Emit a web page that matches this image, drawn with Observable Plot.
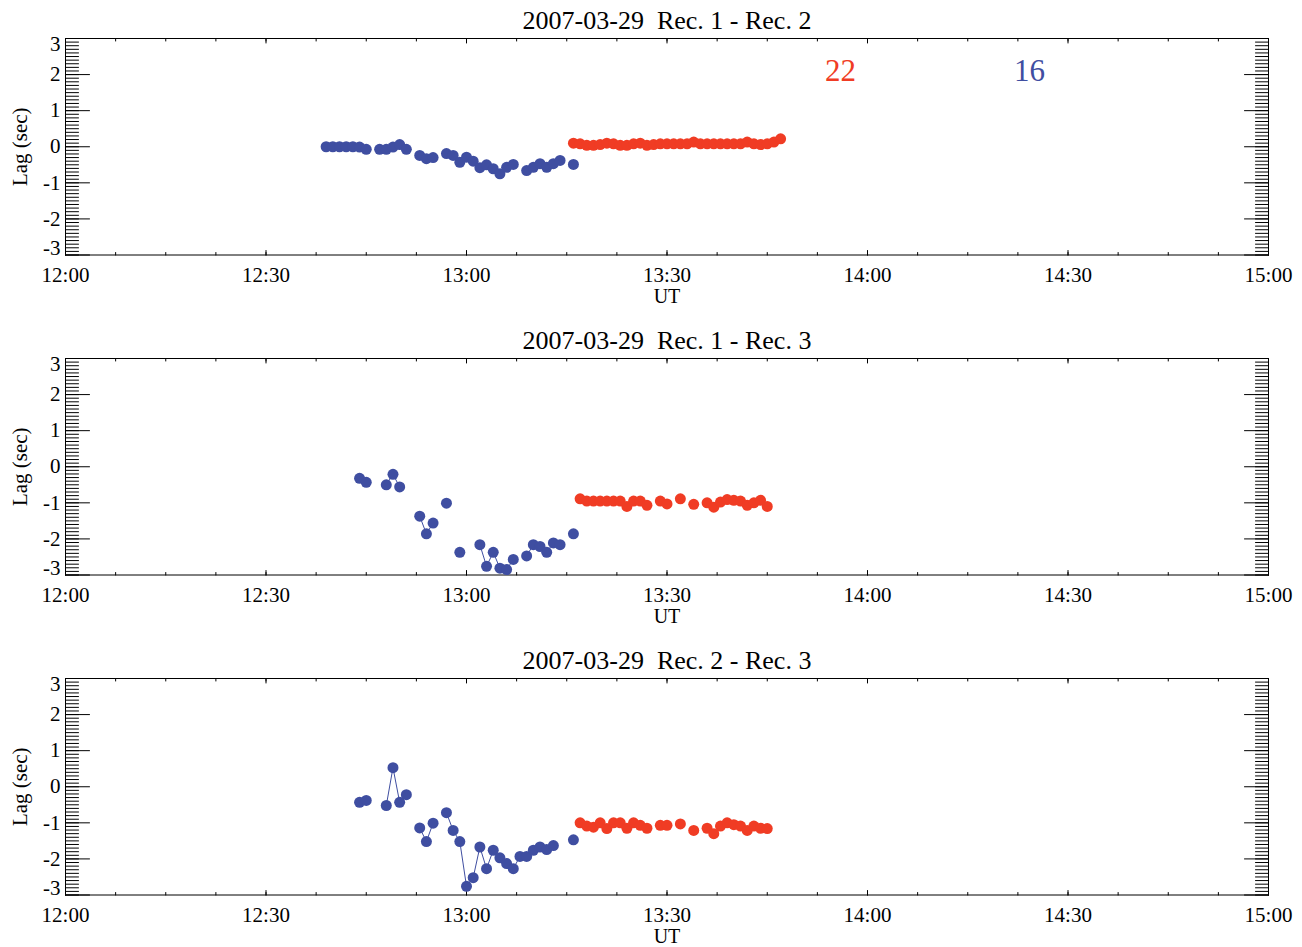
<!DOCTYPE html>
<html>
<head>
<meta charset="utf-8">
<script src="https://cdn.jsdelivr.net/npm/d3@7"></script>
<script src="https://cdn.jsdelivr.net/npm/@observablehq/plot@0.6"></script>
<style>
  body { margin: 0; background: #fff; }
  #chart svg { display: block; }
</style>
</head>
<body>
<div id="chart"></div>
<script>
// ---- Data (time in minutes after 12:00 UT, lag in seconds) ----
const xTickMinutes = [0, 30, 60, 90, 120, 150, 180];
const xTickLabels = ["12:00", "12:30", "13:00", "13:30", "14:00", "14:30", "15:00"];
const yTicks = [-3, -2, -1, 0, 1, 2, 3];

const titles = [
  "2007-03-29  Rec. 1 - Rec. 2",
  "2007-03-29  Rec. 1 - Rec. 3",
  "2007-03-29  Rec. 2 - Rec. 3"
];
const countLabels = ["22", "16"];

// Panel 1: Rec. 1 - Rec. 2
const p1BlueMin = [39,40,41,42,43,44,45, 47,48,49,50,51, 53,54,55, 57,58,59,60,61,62,63,64,65,66,67, 69,70,71,72,73,74, 76];
const p1BlueLag = [0,0,0,0,0,-0.01,-0.07, -0.07,-0.07,-0.01,0.06,-0.07, -0.24,-0.33,-0.30, -0.19,-0.24,-0.43,-0.29,-0.40,-0.58,-0.50,-0.61,-0.75,-0.57,-0.49, -0.66,-0.57,-0.47,-0.57,-0.47,-0.38, -0.49];
const p1RedMin = [76,77,78,79,80,81,82,83,84,85,86,87,88,89,90,91,92,93,94,95,96,97,98,99,100,101,102,103,104,105,106,107];
const p1RedLag = [0.10,0.08,0.04,0.04,0.06,0.10,0.08,0.04,0.04,0.08,0.10,0.04,0.06,0.08,0.08,0.08,0.08,0.08,0.13,0.08,0.08,0.08,0.08,0.08,0.08,0.08,0.13,0.08,0.06,0.08,0.13,0.22];

// Panel 2: Rec. 1 - Rec. 3
const p2BlueMin = [44,45,48,49,50,53,54,55,57,59,62,63,64,65,66,67,69,70,71,72,73,74,76];
const p2BlueLag = [-0.32,-0.43,-0.50,-0.21,-0.56,-1.37,-1.86,-1.56,-1.01,-2.37,-2.16,-2.76,-2.37,-2.81,-2.85,-2.57,-2.47,-2.16,-2.21,-2.37,-2.11,-2.16,-1.86];
const p2RedMin = [77,78,79,80,81,82,83,84,85,86,87,89,90,92,94,96,97,98,99,100,101,102,103,104,105];
const p2RedLag = [-0.89,-0.95,-0.95,-0.95,-0.95,-0.95,-0.95,-1.10,-0.95,-0.95,-1.07,-0.95,-1.03,-0.89,-1.04,-1.00,-1.12,-0.98,-0.91,-0.93,-0.95,-1.07,-1.00,-0.93,-1.10];

// Panel 3: Rec. 2 - Rec. 3
const p3BlueMin = [44,45,48,49,50,51,53,54,55,57,58,59,60,61,62,63,64,65,66,67,68,69,70,71,72,73,76];
const p3BlueLag = [-0.43,-0.38,-0.52,0.53,-0.43,-0.22,-1.14,-1.52,-1.01,-0.72,-1.21,-1.52,-2.76,-2.52,-1.67,-2.27,-1.76,-1.97,-2.13,-2.27,-1.93,-1.93,-1.76,-1.67,-1.74,-1.63,-1.47];
const p3RedMin = [77,78,79,80,81,82,83,84,85,86,87,89,90,92,94,96,97,98,99,100,101,102,103,104,105];
const p3RedLag = [-1.00,-1.09,-1.12,-1.00,-1.16,-1.00,-1.00,-1.15,-1.00,-1.07,-1.15,-1.07,-1.07,-1.03,-1.21,-1.15,-1.30,-1.09,-1.00,-1.05,-1.09,-1.21,-1.09,-1.15,-1.16];

// ---- Styling ----
const BLUE = "#3f4ea1";
const RED = "#f03c24";
const FONT = "'Liberation Serif', 'Times New Roman', serif";

function rows(mins, lags) {
  let seg = 0;
  return mins.map((t, i) => {
    if (i > 0 && t - mins[i - 1] > 1) seg++;
    return {t, lag: lags[i], seg};
  });
}

const lineShape = { draw(context, l) { context.moveTo(0, 0); context.lineTo(0, -l); } };
const xMinor = d3.range(0, 180.001, 7.5);
const yMinor = d3.range(-30, 31).map(i => i / 10);
const yInner = yTicks.slice(1, -1);
const yTop = yTicks.slice(-1);
const yBottom = yTicks.slice(0, 1);

function panel(idx, blueMin, blueLag, redMin, redLag, height, showCounts) {
  const blue = rows(blueMin, blueLag);
  const red = rows(redMin, redLag);
  const tick = (data, opts) => (opts.kind === "x" ? Plot.vectorX : Plot.vectorY)(data, {
    frameAnchor: opts.anchor, rotate: opts.rotate, length: opts.length,
    anchor: "start", shape: lineShape, stroke: "black", strokeWidth: 1
  });
  const yLabel = (data, dy) => Plot.text(data, {
    y: d => d, text: d => String(d), frameAnchor: "left", textAnchor: "end",
    dx: -5, dy, lineAnchor: "middle", fontSize: 21, fill: "black"
  });
  const marks = [
    Plot.frame({stroke: "black", strokeWidth: 1}),
    // y ticks (inside, both sides)
    tick(yMinor, {kind: "y", anchor: "left", rotate: 90, length: 13}),
    tick(yTicks, {kind: "y", anchor: "left", rotate: 90, length: 24}),
    tick(yMinor, {kind: "y", anchor: "right", rotate: -90, length: 13}),
    tick(yTicks, {kind: "y", anchor: "right", rotate: -90, length: 24}),
    // x ticks (inside, bottom and top)
    tick(xMinor, {kind: "x", anchor: "bottom", rotate: 0, length: 2.5}),
    tick(xTickMinutes, {kind: "x", anchor: "bottom", rotate: 0, length: 4.5}),
    tick(xMinor, {kind: "x", anchor: "top", rotate: 180, length: 2.5}),
    tick(xTickMinutes, {kind: "x", anchor: "top", rotate: 180, length: 4.5}),
    // tick labels
    yLabel(yInner, 0),
    yLabel(yTop, 6),
    yLabel(yBottom, -7),
    Plot.text(xTickMinutes, {x: d => d, text: (d, i) => xTickLabels[i], frameAnchor: "bottom", textAnchor: "middle", lineAnchor: "top", dy: 12, fontSize: 21, fill: "black"}),
    // axis titles and panel title
    Plot.text(["Lag (sec)"], {frameAnchor: "left", dx: -45, rotate: -90, textAnchor: "middle", lineAnchor: "middle", fontSize: 21, fill: "black"}),
    Plot.text(["UT"], {frameAnchor: "bottom", dy: 42, textAnchor: "middle", lineAnchor: "middle", fontSize: 20, fill: "black"}),
    Plot.text([titles[idx]], {frameAnchor: "top", dy: -18, textAnchor: "middle", lineAnchor: "middle", fontSize: 26, fill: "black"}),
    // data
    Plot.line(blue, {x: "t", y: "lag", z: "seg", stroke: BLUE, strokeWidth: 1}),
    Plot.line(red, {x: "t", y: "lag", z: "seg", stroke: RED, strokeWidth: 1}),
    Plot.dot(blue, {x: "t", y: "lag", r: 5.5, fill: BLUE, stroke: "none"}),
    Plot.dot(red, {x: "t", y: "lag", r: 5.5, fill: RED, stroke: "none"})
  ];
  if (showCounts) {
    marks.push(Plot.text([countLabels[0]], {frameAnchor: "top-left", textAnchor: "middle", dx: 775, dy: 33, lineAnchor: "middle", fontSize: 31, fill: RED}));
    marks.push(Plot.text([countLabels[1]], {frameAnchor: "top-left", textAnchor: "middle", dx: 964, dy: 33, lineAnchor: "middle", fontSize: 31, fill: BLUE}));
  }
  return Plot.plot({
    width: 1302,
    height,
    marginTop: 38,
    marginLeft: 65,
    marginRight: 34,
    marginBottom: height - 254.5,
    x: {domain: [0, 180], axis: null},
    y: {domain: [-3, 3], axis: null},
    style: {fontFamily: FONT, background: "white", overflow: "visible"},
    marks
  });
}

const chart = document.getElementById("chart");
chart.appendChild(panel(0, p1BlueMin, p1BlueLag, p1RedMin, p1RedLag, 320, true));
chart.appendChild(panel(1, p2BlueMin, p2BlueLag, p2RedMin, p2RedLag, 320, false));
chart.appendChild(panel(2, p3BlueMin, p3BlueLag, p3RedMin, p3RedLag, 307, false));
</script>
</body>
</html>
